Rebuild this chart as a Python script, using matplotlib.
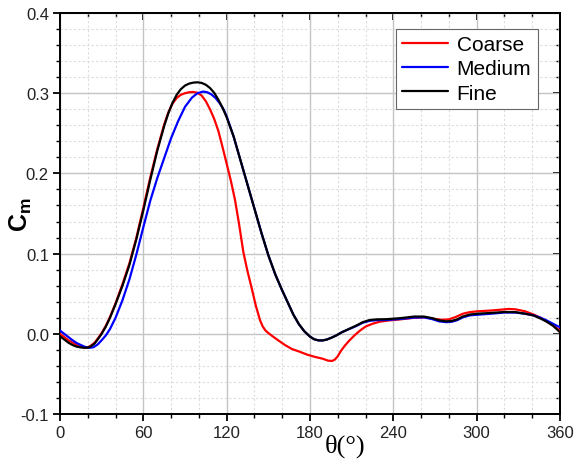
import matplotlib
matplotlib.use("Agg")
import matplotlib.pyplot as plt
from matplotlib.ticker import MultipleLocator, FormatStrFormatter

plt.rcParams['font.family'] = ['Liberation Sans', 'DejaVu Sans']
plt.rcParams['axes.unicode_minus'] = False
plt.rcParams['mathtext.fontset'] = 'custom'
plt.rcParams['mathtext.rm'] = 'Liberation Sans'
plt.rcParams['mathtext.bf'] = 'Liberation Sans:bold'

# ---- data ----
theta_fine = [0, 3, 6, 9, 12, 15, 18, 20, 22, 25, 28, 30, 33, 36, 40, 45, 50, 55, 60, 65, 70,
              75, 78, 81, 84, 87, 90, 93, 96, 99, 102, 105, 108, 111, 114, 117, 120, 125, 130,
              135, 140, 145, 150, 155, 160, 164, 168, 172, 176, 180, 183, 186, 189, 192, 195,
              199, 203, 208, 213, 218, 223, 228, 235, 245, 255, 262, 268, 273, 278, 282, 286,
              290, 295, 300, 310, 320, 328, 335, 341, 346, 350, 355, 360]
cm_fine = [-0.003, -0.007, -0.011, -0.014, -0.016, -0.017, -0.0175, -0.0172, -0.016, -0.012,
           -0.005, 0.000, 0.009, 0.020, 0.037, 0.060, 0.086, 0.118, 0.154, 0.192, 0.228,
           0.259, 0.275, 0.288, 0.298, 0.305, 0.3095, 0.312, 0.3132, 0.3136, 0.3128, 0.3105,
           0.3065, 0.3005, 0.292, 0.282, 0.270, 0.246, 0.216,
           0.186, 0.156, 0.126, 0.098, 0.074, 0.054, 0.039, 0.024, 0.012, 0.003, -0.0035,
           -0.0068, -0.0082, -0.0083, -0.0072, -0.0052,
           -0.002, 0.002, 0.006, 0.010, 0.0145, 0.0172, 0.018, 0.0182, 0.0195, 0.0215, 0.0215,
           0.0195, 0.0168, 0.0155, 0.016, 0.018,
           0.0215, 0.024, 0.025, 0.026, 0.0272, 0.027, 0.025, 0.0228, 0.019, 0.0155, 0.010, 0.002]

theta_coarse = [0, 3, 6, 9, 12, 15, 18, 20, 22, 25, 28, 30, 33, 36, 40, 45, 50, 55, 60, 65, 70,
                75, 78, 81, 84, 87, 90, 93, 96, 99, 102, 105, 108, 111, 114, 117, 120, 123, 126,
                129, 132, 135, 138, 141, 144, 146, 148, 150, 153, 157, 162, 167, 172, 178, 184,
                189, 193, 196, 198, 200, 202, 205, 208, 212, 216, 220, 225, 230, 236, 245, 255,
                263, 270, 275, 280, 285, 290, 295, 300, 310, 317, 323, 328, 335, 341, 346, 351,
                356, 360]
cm_coarse = [0.000, -0.004, -0.008, -0.011, -0.014, -0.016, -0.017, -0.0168, -0.015, -0.011,
             -0.004, 0.001, 0.010, 0.021, 0.038, 0.062, 0.088, 0.120, 0.157, 0.195, 0.230,
             0.261, 0.276, 0.287, 0.294, 0.298, 0.300, 0.3012, 0.3015, 0.3005, 0.297, 0.290,
             0.280, 0.268, 0.253, 0.233, 0.212, 0.191, 0.167,
             0.136, 0.102, 0.078, 0.057, 0.035, 0.017, 0.009, 0.004, 0.001, -0.003, -0.008,
             -0.014, -0.019, -0.022, -0.026, -0.029,
             -0.031, -0.0335, -0.0338, -0.032, -0.028, -0.022, -0.015, -0.009, -0.002, 0.004,
             0.009, 0.0125, 0.015, 0.0165, 0.018, 0.020,
             0.0205, 0.0185, 0.0175, 0.018, 0.021, 0.025, 0.027, 0.028, 0.029, 0.030, 0.031,
             0.0305, 0.028, 0.024, 0.020, 0.015,
             0.009, 0.004]

theta_medium = [0, 3, 6, 9, 12, 15, 18, 21, 24, 27, 30, 33, 36, 40, 45, 50, 55, 60, 65, 70, 75,
                80, 85, 90, 95, 99, 103, 106, 109, 112, 115, 118, 120, 125, 130, 135, 140, 145,
                150, 155, 160, 164, 168, 172, 176, 180, 183, 186, 189, 192, 195, 199, 203, 208,
                213, 218, 223, 228, 235, 245, 255, 262, 268, 273, 278, 282, 286, 290, 295, 300,
                310, 320, 328, 335, 341, 346, 350, 355, 360]
cm_medium = [0.004, 0.000, -0.004, -0.008, -0.0115, -0.014, -0.0163, -0.0175, -0.0168,
             -0.0135, -0.008, -0.002, 0.006, 0.020, 0.042, 0.068, 0.099, 0.133, 0.166, 0.194,
             0.219, 0.244, 0.265, 0.283, 0.2945, 0.300, 0.302, 0.3012, 0.2985, 0.294, 0.2875,
             0.279, 0.271, 0.246, 0.216, 0.186, 0.156, 0.126,
             0.098, 0.074, 0.054, 0.039, 0.024, 0.012, 0.003, -0.0035, -0.0068, -0.0082,
             -0.0083, -0.0072, -0.0052, -0.002, 0.002, 0.0058,
             0.0095, 0.0138, 0.0162, 0.017, 0.0172, 0.0185, 0.0202, 0.0205, 0.0183, 0.0155,
             0.0145, 0.015, 0.017, 0.0205, 0.023, 0.0237,
             0.025, 0.0265, 0.0265, 0.025, 0.023, 0.020, 0.017, 0.0125, 0.008]

series_labels = ['Coarse', 'Medium', 'Fine']
x_ticks = [0, 60, 120, 180, 240, 300, 360]
y_ticks = [-0.1, 0.0, 0.1, 0.2, 0.3, 0.4]

fig = plt.figure(figsize=(5.76, 4.64), dpi=100)
ax = fig.add_axes([60/576, 1-415/464, 500/576, 401/464])

kw = dict(lw=1.6, solid_joinstyle='round', solid_capstyle='round')
ax.plot(theta_coarse, cm_coarse, color='#ff0000', label=series_labels[0], zorder=3, **kw)
ax.plot(theta_medium, cm_medium, color='#0000ff', label=series_labels[1], zorder=4, **kw)
ax.plot(theta_fine, cm_fine, color='#000000', label=series_labels[2], zorder=5, **kw)

ax.set_xlim(0, 360)
ax.set_ylim(-0.1, 0.4)
ax.set_xticks(x_ticks)
ax.set_yticks(y_ticks)
ax.xaxis.set_minor_locator(MultipleLocator(20))
ax.yaxis.set_minor_locator(MultipleLocator(0.02))
ax.yaxis.set_major_formatter(FormatStrFormatter('%.1f'))

ax.grid(which='major', color='#c4c4c4', lw=1.0, ls='-')
ax.grid(which='minor', color='#dcdcdc', lw=0.8, ls=(0, (2, 2)))
ax.set_axisbelow(True)

for s in ax.spines.values():
    s.set_linewidth(1.4)
ax.tick_params(which='major', direction='out', length=5, width=1.3, labelsize=12,
               colors='black', pad=3)
ax.tick_params(which='minor', direction='out', length=3, width=1.0)
ax.tick_params(axis='both', labelcolor='#222222')

# inward ticks on top and right
sx = ax.secondary_xaxis('top')
sx.set_xticks(x_ticks)
sx.xaxis.set_minor_locator(MultipleLocator(20))
sx.tick_params(which='major', direction='in', length=5, width=1.3, labeltop=False)
sx.tick_params(which='minor', direction='in', length=3, width=1.0)
sx.spines['top'].set_linewidth(1.4)
sy = ax.secondary_yaxis('right')
sy.set_yticks(y_ticks)
sy.yaxis.set_minor_locator(MultipleLocator(0.02))
sy.tick_params(which='major', direction='in', length=5, width=1.3, labelright=False)
sy.tick_params(which='minor', direction='in', length=3, width=1.0)
sy.spines['right'].set_linewidth(1.4)

ax.text(-0.078, 0.5, r'$\mathbf{C_m}$', transform=ax.transAxes, rotation=90,
        ha='center', va='center', fontsize=18)
ax.text(0.57, -0.077, 'θ(°)', transform=ax.transAxes, ha='center', va='center',
        fontsize=19, family=['Liberation Serif', 'DejaVu Serif'])

leg = ax.legend(loc='upper right', bbox_to_anchor=(0.955, 0.96), fontsize=15,
                frameon=True, fancybox=False, edgecolor='#666666', framealpha=1,
                handlelength=2.2, handletextpad=0.4, borderpad=0.3, labelspacing=0.25,
                borderaxespad=0)
leg.get_frame().set_linewidth(0.8)

fig.savefig('out.png', dpi=100)
